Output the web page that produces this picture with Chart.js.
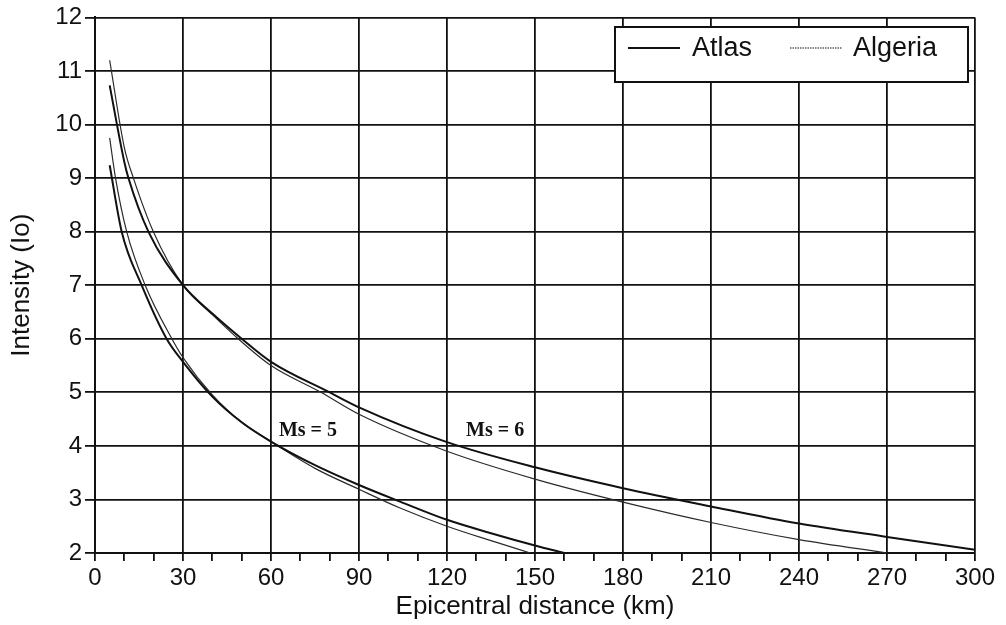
<!DOCTYPE html>
<html><head><meta charset="utf-8">
<script src="https://cdn.jsdelivr.net/npm/chart.js@4.4.1/dist/chart.umd.min.js"></script>
<style>html,body{margin:0;padding:0;background:#fff}#wrap{width:1006px;height:625px;position:relative}</style>
</head><body><div id="wrap"><canvas id="c" width="1006" height="625"></canvas></div>
<script>
// ---- data ----
const xTickLabels = [0,30,60,90,120,150,180,210,240,270,300];
const yTickLabels = [2,3,4,5,6,7,8,9,10,11,12];

const atlasMs6Dist = [5,10,11.4,18.2,30,40,50,60,80,90,120,150,180,210,240,270,300];
const atlasMs6Int  = [10.73,9.3,9.0,8.0,7.0,6.47,6.0,5.57,5.0,4.72,4.07,3.60,3.21,2.87,2.55,2.30,2.06];

const algeriaMs6Dist = [5,10,13.1,19.9,30,40,48.8,60,77,90,120,150,180,210,240,270];
const algeriaMs6Int  = [11.2,9.57,9.0,8.0,7.0,6.45,6.0,5.50,5.0,4.59,3.90,3.38,2.95,2.57,2.25,2.0];

const atlasMs5Dist = [5,9.1,15.9,24.4,30,40,50,60,75,90,104,120,135,150,160];
const atlasMs5Int  = [9.24,8.0,7.0,6.0,5.57,4.92,4.44,4.08,3.64,3.27,2.96,2.62,2.37,2.14,2.0];

const algeriaMs5Dist = [5,7,10.8,17.1,26.2,30,40,50,60,75,90,104,120,135,148.4];
const algeriaMs5Int  = [9.75,9.0,8.0,7.0,6.0,5.65,4.95,4.44,4.08,3.58,3.19,2.84,2.50,2.23,2.0];

const legendLabels = ['Atlas','Algeria'];
const annotLabels = ['Ms = 5','Ms = 6'];
const annotX = [72.6,136.4];
const annotY = [4.28,4.28];

// ---- build ----
const pts = (xs, ys) => xs.map((x,i)=>({x:x,y:ys[i]}));
const atlasStyle = {borderColor:'#111', borderWidth:2, pointRadius:0, fill:false, tension:0.4, cubicInterpolationMode:'monotone'};
const algStyle = {borderColor:'#2a2a2a', borderWidth:1.2, pointRadius:0, fill:false, tension:0.4, cubicInterpolationMode:'monotone'};

const legendPlugin = {
  id:'boxLegend',
  afterDraw(chart){
    const ctx = chart.ctx;
    ctx.save();
    ctx.fillStyle='#fff';
    ctx.fillRect(615,27,353,55);
    ctx.strokeStyle='#111'; ctx.lineWidth=2;
    ctx.strokeRect(615,27,353,55);
    ctx.font='27px "Liberation Sans", Arial, sans-serif';
    ctx.fillStyle='#111'; ctx.textBaseline='middle'; ctx.textAlign='left';
    // Atlas
    ctx.lineWidth=1.8; ctx.beginPath(); ctx.moveTo(628,48); ctx.lineTo(680,48); ctx.stroke();
    ctx.fillText(legendLabels[0], 692, 49);
    // Algeria
    ctx.lineWidth=1.2; ctx.setLineDash([1.5,1]); ctx.beginPath(); ctx.moveTo(790,48); ctx.lineTo(842,48); ctx.stroke();
    ctx.setLineDash([]);
    ctx.fillText(legendLabels[1], 853, 49);
    // annotations
    ctx.font='bold 20px "Liberation Serif", "Times New Roman", serif';
    ctx.textAlign='center';
    const xs = chart.scales.x, ys = chart.scales.y;
    for(let i=0;i<annotLabels.length;i++){
      ctx.fillText(annotLabels[i], xs.getPixelForValue(annotX[i]), ys.getPixelForValue(annotY[i]));
    }
    ctx.restore();
  }
};

const tickFont = {family:'"Liberation Sans", Arial, sans-serif', size:24};
const titleFont = {family:'"Liberation Sans", Arial, sans-serif', size:26};
new Chart(document.getElementById('c'), {
  type:'scatter',
  data:{datasets:[
    Object.assign({label:'Atlas Ms=6', data:pts(atlasMs6Dist,atlasMs6Int), showLine:true}, atlasStyle),
    Object.assign({label:'Algeria Ms=6', data:pts(algeriaMs6Dist,algeriaMs6Int), showLine:true}, algStyle),
    Object.assign({label:'Atlas Ms=5', data:pts(atlasMs5Dist,atlasMs5Int), showLine:true}, atlasStyle),
    Object.assign({label:'Algeria Ms=5', data:pts(algeriaMs5Dist,algeriaMs5Int), showLine:true}, algStyle)
  ]},
  options:{
    responsive:false, animation:false, devicePixelRatio:1,
    layout:{padding:{left:0,top:16,right:31,bottom:0}},
    plugins:{legend:{display:false}, tooltip:{enabled:false}},
    scales:{
      x:{type:'linear', min:0, max:300,
        afterBuildTicks(s){ const t=[]; for(let v=0;v<=300;v+=10) t.push({value:v}); s.ticks=t; },
        afterFit(s){ s.height=72; },
        ticks:{autoSkip:false, maxRotation:0, color:'#111', font:tickFont, padding:3},
        grid:{color:(c)=> (c.tick && xTickLabels.includes(c.tick.value)) ? '#111' : 'rgba(0,0,0,0)',
          tickColor:'#111', lineWidth:1.8, tickLength:8, drawTicks:true},
        border:{color:'#111', width:2},
        title:{display:true, text:'Epicentral distance (km)', color:'#111',
          font:titleFont, padding:{top:0,bottom:3}}
      },
      y:{type:'linear', min:2, max:12,
        afterBuildTicks(s){ s.ticks=yTickLabels.map(v=>({value:v})); },
        afterFit(s){ s.width=95; },
        ticks:{color:'#111', font:tickFont, padding:3},
        grid:{color:'#111', tickColor:'#111', lineWidth:1.8, tickLength:10},
        border:{color:'#111', width:2},
        title:{display:true, text:'Intensity (Io)', color:'#111',
          font:titleFont, padding:{top:6,bottom:0}}
      }
    }
  },
  plugins:[legendPlugin]
});
// x tick label callback applied after creation to keep labels only at 30-km steps
const ch = Chart.getChart('c');
ch.options.scales.x.ticks.callback = (v)=> xTickLabels.includes(v) ? String(v) : '';
ch.update();
</script></body></html>
